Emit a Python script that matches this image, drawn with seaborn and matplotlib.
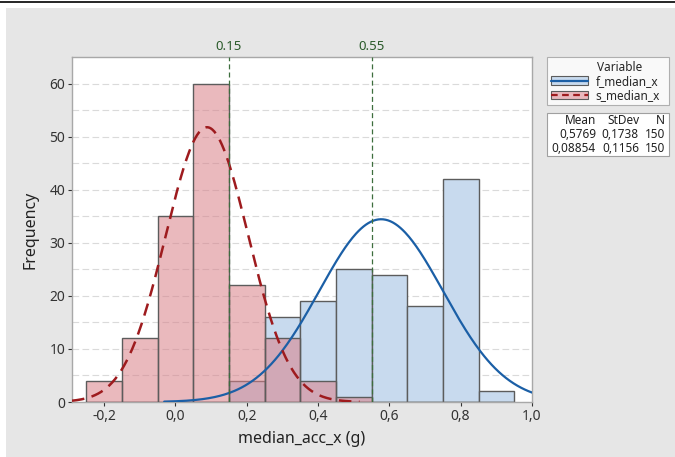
import numpy as np
import pandas as pd
import seaborn as sns
import matplotlib
matplotlib.use("Agg")
import matplotlib.pyplot as plt
from matplotlib.patches import Patch, Rectangle
from matplotlib.lines import Line2D
import matplotlib.transforms as mtransforms

# ---- data ----
bin_edges = [-0.25, -0.15, -0.05, 0.05, 0.15, 0.25, 0.35, 0.45, 0.55, 0.65, 0.75, 0.85, 0.95]
f_counts = [0, 0, 0, 0, 4, 16, 19, 25, 24, 18, 42, 2]
s_counts = [4, 12, 35, 60, 22, 12, 4, 1, 0, 0, 0, 0]
series_names = ["f_median_x", "s_median_x"]
means = [0.5769, 0.08854]
stdevs = [0.1738, 0.1156]
ns = [150, 150]
mean_labels = ["0,5769", "0,08854"]
stdev_labels = ["0,1738", "0,1156"]
ref_lines = [0.15, 0.55]
ref_labels = ["0.15", "0.55"]
xticks = [-0.2, 0.0, 0.2, 0.4, 0.6, 0.8, 1.0]
xtick_labels = ["-0,2", "0,0", "0,2", "0,4", "0,6", "0,8", "1,0"]
yticks = [0, 10, 20, 30, 40, 50, 60]

sns.set_theme(style="white")
plt.rcParams['font.family'] = ['Noto Sans', 'DejaVu Sans']

W, H = 675, 457
fig = plt.figure(figsize=(W / 100, H / 100), dpi=100)
fig.patch.set_facecolor("white")
# gray panel background
fig.patches.append(Rectangle((6 / W, 0), 1 - 6 / W, 1 - 8 / H, transform=fig.transFigure,
                             facecolor="#e6e6e6", edgecolor="none", zorder=-10))
fig.add_artist(Line2D([0, 1], [1 - 1.5 / H, 1 - 1.5 / H], transform=fig.transFigure,
                      color="black", lw=1.2))

ax = fig.add_axes([72 / W, (H - 402) / H, (532 - 72) / W, (402 - 57) / H])
ax.set_facecolor("white")

centers = [(bin_edges[i] + bin_edges[i + 1]) / 2 for i in range(len(bin_edges) - 1)]
df = pd.DataFrame({"x": centers, "f": f_counts, "s": s_counts})

blue_fill = "#c8daee"
red_fill = (217 / 255, 128 / 255, 136 / 255, 0.55)
edge = "#5c5c5c"

sns.histplot(data=df, x="x", weights="f", bins=bin_edges, ax=ax, stat="count",
             facecolor=blue_fill, edgecolor=edge, linewidth=1.0, alpha=None, zorder=2)
sns.histplot(data=df, x="x", weights="s", bins=bin_edges, ax=ax, stat="count",
             facecolor=red_fill, edgecolor=edge, linewidth=1.0, alpha=None, zorder=3)

# fitted normal curves
binw = bin_edges[1] - bin_edges[0]
xmin, xmax = -0.29, 1.0
curve_styles = [dict(color="#1b5fa6", lw=1.6, ls="-"),
                dict(color="#9e1b1e", lw=1.8, ls=(0, (5, 3)))]
for m, s, n, st in zip(means, stdevs, ns, curve_styles):
    lo, hi = max(xmin, m - 3.5 * s), min(xmax, m + 3.7 * s)
    xs = np.linspace(lo, hi, 300)
    ys = n * binw / (s * np.sqrt(2 * np.pi)) * np.exp(-0.5 * ((xs - m) / s) ** 2)
    sns.lineplot(x=xs, y=ys, ax=ax, color=st["color"], linewidth=st["lw"],
                 zorder=4, estimator=None, sort=False)
    ax.lines[-1].set_linestyle(st["ls"])

# reference lines
trans = mtransforms.blended_transform_factory(ax.transData, ax.transAxes)
for v, lab in zip(ref_lines, ref_labels):
    ax.axvline(v, color="#3d6e3d", lw=0.9, ls=(0, (4, 2.5)), zorder=5)
    ax.text(v, 1.012, lab, transform=trans, ha="center", va="bottom",
            color="#2a5a2a", fontsize=9.5, fontweight="bold")

ax.set_xlim(xmin, xmax)
ax.set_ylim(0, 65)
ax.set_xticks(xticks)
ax.set_xticklabels(xtick_labels)
ax.set_yticks(yticks)
ax.set_yticks(np.arange(5, 65, 10), minor=True)
ax.grid(axis="y", which="both", color="#dadada", ls=(0, (6, 3)), lw=0.8, zorder=0)
ax.set_axisbelow(True)
ax.tick_params(axis="both", which="major", labelsize=10, colors="#333333",
               length=3, width=0.8, direction="out", bottom=True, left=True, pad=2)
ax.tick_params(axis="y", which="minor", length=0)
for sp in ax.spines.values():
    sp.set_color("#a8a8a8")
    sp.set_linewidth(1.0)
ax.set_xlabel("median_acc_x (g)", fontsize=11.5, color="#222222", labelpad=5)
ax.set_ylabel("Frequency", fontsize=11.5, color="#222222", labelpad=8)

# legend
handles = [
    (Patch(facecolor=blue_fill, edgecolor=edge, lw=0.8), Line2D([], [], color="#1b5fa6", lw=1.6)),
    (Patch(facecolor=(0.91, 0.72, 0.74), edgecolor=edge, lw=0.8),
     Line2D([], [], color="#9e1b1e", lw=1.6, ls=(0, (3, 2)))),
]
leg = fig.legend(handles, series_names, title="Variable", loc="upper left",
                 bbox_to_anchor=(547 / W, 1 - 107 / H, (669 - 547) / W, 50 / H), mode="expand",
                 fontsize=8.5, title_fontsize=8.5,
                 frameon=True, fancybox=False, borderpad=0.3, handlelength=3.2,
                 handletextpad=0.6, labelspacing=0.1, borderaxespad=0)
leg.get_frame().set_edgecolor("#a0a0a0")
leg.get_frame().set_linewidth(0.8)
leg.get_frame().set_facecolor("white")
leg.get_title().set_position((12, 0))

# stats table
fig.patches.append(Rectangle((547 / W, 1 - 156 / H), (669 - 547) / W, (156 - 113) / H,
                             transform=fig.transFigure, facecolor="white",
                             edgecolor="#a0a0a0", lw=0.8, zorder=5))
col_x = [596, 639, 665]
rows_y = [121, 135, 149]
headers = ["Mean", "StDev", "N"]
for cx, h in zip(col_x, headers):
    fig.text(cx / W, 1 - rows_y[0] / H, h, ha="right", va="center", fontsize=8.5,
             color="#222222", zorder=6)
for r in range(2):
    vals = [mean_labels[r], stdev_labels[r], str(ns[r])]
    for cx, v in zip(col_x, vals):
        fig.text(cx / W, 1 - rows_y[r + 1] / H, v, ha="right", va="center", fontsize=8.5,
                 color="#222222", zorder=6)

fig.savefig("out.png", dpi=100)
